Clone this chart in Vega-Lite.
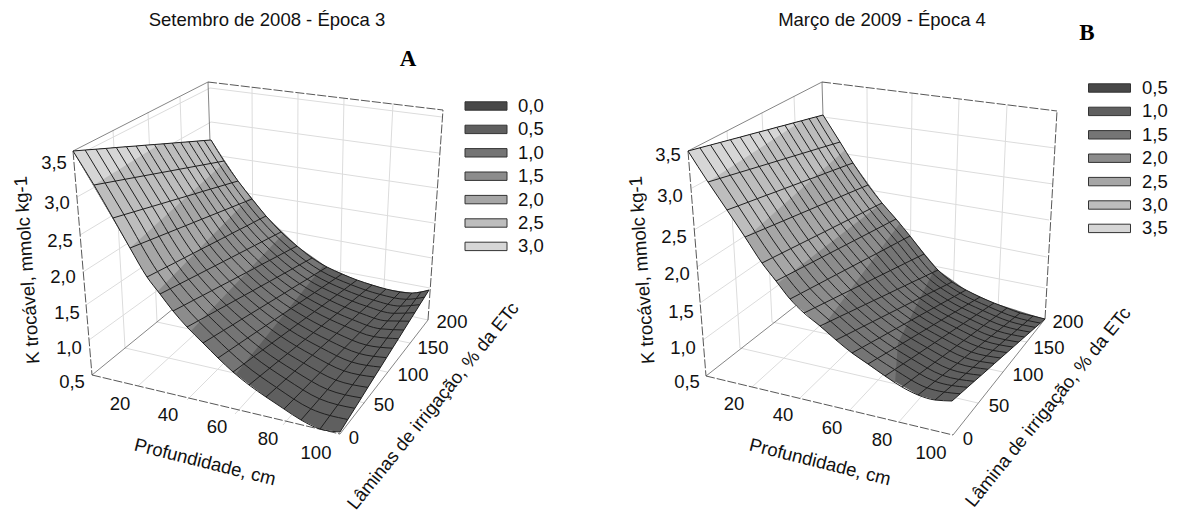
{"$schema":"https://vega.github.io/schema/vega-lite/v6.json","padding":0,"spacing":0,"background":"white","config":{"view":{"stroke":null},"text":{"font":"Liberation Sans","fontSize":18.5,"color":"#111"}},
"datasets":{
"meshA":[
{"c":0,"r":0,"h":73,"v":151},{"c":0,"r":1,"h":94,"v":185},{"c":0,"r":2,"h":113,"v":218},{"c":0,"r":3,"h":130,"v":248},{"c":0,"r":4,"h":147,"v":277},{"c":0,"r":5,"h":160,"v":294},{"c":0,"r":6,"h":173,"v":311},{"c":0,"r":7,"h":187,"v":327},{"c":0,"r":8,"h":203,"v":343},{"c":0,"r":9,"h":218,"v":358},{"c":0,"r":10,"h":233,"v":372},{"c":0,"r":11,"h":249,"v":385},{"c":0,"r":12,"h":266,"v":397},{"c":0,"r":13,"h":284,"v":409},{"c":0,"r":14,"h":301,"v":420},{"c":0,"r":15,"h":320,"v":429},{"c":0,"r":16,"h":340,"v":432},
{"c":15,"r":0,"h":211,"v":140},{"c":15,"r":1,"h":224,"v":161},{"c":15,"r":2,"h":238,"v":181},{"c":15,"r":3,"h":252,"v":199},{"c":15,"r":4,"h":266,"v":216},{"c":15,"r":5,"h":281,"v":232},{"c":15,"r":6,"h":297,"v":246},{"c":15,"r":7,"h":312,"v":258},{"c":15,"r":8,"h":327,"v":267},{"c":15,"r":9,"h":342,"v":274},{"c":15,"r":10,"h":357,"v":280},{"c":15,"r":11,"h":372,"v":285},{"c":15,"r":12,"h":386,"v":289},{"c":15,"r":13,"h":400,"v":292},{"c":15,"r":14,"h":412,"v":293},{"c":15,"r":15,"h":421,"v":292},{"c":15,"r":16,"h":429,"v":290},
{"c":1,"r":0,"h":85.1,"v":150},{"c":2,"r":0,"h":96,"v":149.2},{"c":3,"r":0,"h":106.1,"v":148.4},{"c":4,"r":0,"h":116.3,"v":147.5},{"c":5,"r":0,"h":126.4,"v":146.7},{"c":6,"r":0,"h":136.1,"v":146},{"c":7,"r":0,"h":145.3,"v":145.2},{"c":8,"r":0,"h":154.4,"v":144.5},{"c":9,"r":0,"h":163.7,"v":143.8},{"c":10,"r":0,"h":172.1,"v":143.1},{"c":11,"r":0,"h":180.6,"v":142.4},{"c":12,"r":0,"h":188.9,"v":141.8},{"c":13,"r":0,"h":196.8,"v":141.1},{"c":14,"r":0,"h":204.1,"v":140.5},
{"c":1,"r":2,"h":124,"v":214.7},{"c":2,"r":2,"h":133.9,"v":211.8},{"c":3,"r":2,"h":143,"v":209.1},{"c":4,"r":2,"h":152.3,"v":206.4},{"c":5,"r":2,"h":161.4,"v":203.7},{"c":6,"r":2,"h":170.1,"v":201.1},{"c":7,"r":2,"h":178.5,"v":198.6},{"c":8,"r":2,"h":186.8,"v":196.2},{"c":9,"r":2,"h":195.1,"v":193.7},{"c":10,"r":2,"h":202.8,"v":191.4},{"c":11,"r":2,"h":210.5,"v":189.1},{"c":12,"r":2,"h":218,"v":186.9},{"c":13,"r":2,"h":225.1,"v":184.8},{"c":14,"r":2,"h":231.8,"v":182.8},
{"c":1,"r":4,"h":157.5,"v":271.6},{"c":2,"r":4,"h":166.9,"v":266.8},{"c":3,"r":4,"h":175.6,"v":262.4},{"c":4,"r":4,"h":184.4,"v":257.8},{"c":5,"r":4,"h":193.1,"v":253.4},{"c":6,"r":4,"h":201.4,"v":249.1},{"c":7,"r":4,"h":209.4,"v":245},{"c":8,"r":4,"h":217.2,"v":241},{"c":9,"r":4,"h":225.2,"v":236.9},{"c":10,"r":4,"h":232.4,"v":233.2},{"c":11,"r":4,"h":239.8,"v":229.4},{"c":12,"r":4,"h":247,"v":225.8},{"c":13,"r":4,"h":253.7,"v":222.3},{"c":14,"r":4,"h":260,"v":219},
{"c":1,"r":6,"h":183.9,"v":305.3},{"c":2,"r":6,"h":193.7,"v":300.1},{"c":3,"r":6,"h":202.8,"v":295.4},{"c":4,"r":6,"h":211.9,"v":290.6},{"c":5,"r":6,"h":221,"v":285.8},{"c":6,"r":6,"h":229.7,"v":281.3},{"c":7,"r":6,"h":238,"v":276.9},{"c":8,"r":6,"h":246.2,"v":272.6},{"c":9,"r":6,"h":254.5,"v":268.3},{"c":10,"r":6,"h":262,"v":264.3},{"c":11,"r":6,"h":269.7,"v":260.3},{"c":12,"r":6,"h":277.2,"v":256.4},{"c":13,"r":6,"h":284.2,"v":252.7},{"c":14,"r":6,"h":290.8,"v":249.2},
{"c":1,"r":8,"h":213.9,"v":336.3},{"c":2,"r":8,"h":223.7,"v":330.3},{"c":3,"r":8,"h":232.8,"v":324.8},{"c":4,"r":8,"h":241.9,"v":319.1},{"c":5,"r":8,"h":251,"v":313.6},{"c":6,"r":8,"h":259.7,"v":308.3},{"c":7,"r":8,"h":268,"v":303.2},{"c":8,"r":8,"h":276.2,"v":298.2},{"c":9,"r":8,"h":284.5,"v":293.1},{"c":10,"r":8,"h":292,"v":288.4},{"c":11,"r":8,"h":299.7,"v":283.7},{"c":12,"r":8,"h":307.2,"v":279.2},{"c":13,"r":8,"h":314.2,"v":274.8},{"c":14,"r":8,"h":320.8,"v":270.8},
{"c":1,"r":10,"h":243.9,"v":363.9},{"c":2,"r":10,"h":253.7,"v":356.6},{"c":3,"r":10,"h":262.8,"v":349.9},{"c":4,"r":10,"h":271.9,"v":343.1},{"c":5,"r":10,"h":281,"v":336.4},{"c":6,"r":10,"h":289.7,"v":330},{"c":7,"r":10,"h":298,"v":323.8},{"c":8,"r":10,"h":306.2,"v":317.7},{"c":9,"r":10,"h":314.5,"v":311.6},{"c":10,"r":10,"h":322,"v":305.9},{"c":11,"r":10,"h":329.7,"v":300.2},{"c":12,"r":10,"h":337.2,"v":294.7},{"c":13,"r":10,"h":344.2,"v":289.5},{"c":14,"r":10,"h":350.8,"v":284.6},
{"c":1,"r":12,"h":276.6,"v":387.5},{"c":2,"r":12,"h":286,"v":379},{"c":3,"r":12,"h":294.8,"v":371.1},{"c":4,"r":12,"h":303.7,"v":363.1},{"c":5,"r":12,"h":312.4,"v":355.2},{"c":6,"r":12,"h":320.8,"v":347.6},{"c":7,"r":12,"h":328.9,"v":340.4},{"c":8,"r":12,"h":336.8,"v":333.3},{"c":9,"r":12,"h":344.8,"v":326},{"c":10,"r":12,"h":352.2,"v":319.5},{"c":11,"r":12,"h":359.6,"v":312.8},{"c":12,"r":12,"h":366.8,"v":306.3},{"c":13,"r":12,"h":373.6,"v":300.1},{"c":14,"r":12,"h":380,"v":294.4},
{"c":1,"r":14,"h":310.8,"v":408.8},{"c":2,"r":14,"h":319.5,"v":398.8},{"c":3,"r":14,"h":327.6,"v":389.5},{"c":4,"r":14,"h":335.9,"v":380.1},{"c":5,"r":14,"h":344,"v":370.9},{"c":6,"r":14,"h":351.7,"v":362},{"c":7,"r":14,"h":359.2,"v":353.5},{"c":8,"r":14,"h":366.5,"v":345.1},{"c":9,"r":14,"h":373.9,"v":336.6},{"c":10,"r":14,"h":380.7,"v":328.8},{"c":11,"r":14,"h":387.6,"v":320.9},{"c":12,"r":14,"h":394.2,"v":313.3},{"c":13,"r":14,"h":400.6,"v":306.1},{"c":14,"r":14,"h":406.5,"v":299.3},
{"c":1,"r":16,"h":347.8,"v":419.5},{"c":2,"r":16,"h":354.9,"v":408.3},{"c":3,"r":16,"h":361.4,"v":397.9},{"c":4,"r":16,"h":367.9,"v":387.4},{"c":5,"r":16,"h":374.4,"v":377},{"c":6,"r":16,"h":380.7,"v":367.1},{"c":7,"r":16,"h":386.6,"v":357.6},{"c":8,"r":16,"h":392.5,"v":348.2},{"c":9,"r":16,"h":398.5,"v":338.7},{"c":10,"r":16,"h":403.9,"v":330},{"c":11,"r":16,"h":409.4,"v":321.2},{"c":12,"r":16,"h":414.8,"v":312.7},{"c":13,"r":16,"h":419.8,"v":304.6},{"c":14,"r":16,"h":424.6,"v":297.1}],
"meshB":[
{"c":0,"r":0,"h":688,"v":151},{"c":0,"r":1,"h":708,"v":182},{"c":0,"r":2,"h":727,"v":210},{"c":0,"r":3,"h":745,"v":237},{"c":0,"r":4,"h":762,"v":263},{"c":0,"r":5,"h":776,"v":281},{"c":0,"r":6,"h":790,"v":299},{"c":0,"r":7,"h":804,"v":313},{"c":0,"r":8,"h":820,"v":326},{"c":0,"r":9,"h":836,"v":340},{"c":0,"r":10,"h":852,"v":353},{"c":0,"r":11,"h":868,"v":364},{"c":0,"r":12,"h":885,"v":376},{"c":0,"r":13,"h":902,"v":387},{"c":0,"r":14,"h":918,"v":395},{"c":0,"r":15,"h":935,"v":400},{"c":0,"r":16,"h":952,"v":401},
{"c":15,"r":0,"h":823,"v":115},{"c":15,"r":1,"h":840,"v":142},{"c":15,"r":2,"h":853,"v":163},{"c":15,"r":3,"h":868,"v":185},{"c":15,"r":4,"h":882,"v":203},{"c":15,"r":5,"h":896,"v":219},{"c":15,"r":6,"h":910,"v":236},{"c":15,"r":7,"h":924,"v":254},{"c":15,"r":8,"h":938,"v":270},{"c":15,"r":9,"h":952,"v":282},{"c":15,"r":10,"h":966,"v":290},{"c":15,"r":11,"h":980,"v":297},{"c":15,"r":12,"h":994,"v":303},{"c":15,"r":13,"h":1007,"v":308},{"c":15,"r":14,"h":1020,"v":313},{"c":15,"r":15,"h":1033,"v":316},{"c":15,"r":16,"h":1045,"v":319},
{"c":1,"r":0,"h":699.9,"v":147.8},{"c":2,"r":0,"h":710.5,"v":145},{"c":3,"r":0,"h":720.4,"v":142.4},{"c":4,"r":0,"h":730.4,"v":139.7},{"c":5,"r":0,"h":740.2,"v":137.1},{"c":6,"r":0,"h":749.7,"v":134.5},{"c":7,"r":0,"h":758.7,"v":132.1},{"c":8,"r":0,"h":767.7,"v":129.8},{"c":9,"r":0,"h":776.7,"v":127.3},{"c":10,"r":0,"h":784.9,"v":125.2},{"c":11,"r":0,"h":793.3,"v":122.9},{"c":12,"r":0,"h":801.4,"v":120.8},{"c":13,"r":0,"h":809.1,"v":118.7},{"c":14,"r":0,"h":816.3,"v":116.8},
{"c":1,"r":2,"h":738.1,"v":205.9},{"c":2,"r":2,"h":748,"v":202.2},{"c":3,"r":2,"h":757.2,"v":198.7},{"c":4,"r":2,"h":766.6,"v":195.2},{"c":5,"r":2,"h":775.8,"v":191.8},{"c":6,"r":2,"h":784.6,"v":188.5},{"c":7,"r":2,"h":793,"v":185.4},{"c":8,"r":2,"h":801.3,"v":182.3},{"c":9,"r":2,"h":809.8,"v":179.1},{"c":10,"r":2,"h":817.5,"v":176.3},{"c":11,"r":2,"h":825.3,"v":173.3},{"c":12,"r":2,"h":832.8,"v":170.5},{"c":13,"r":2,"h":840,"v":167.8},{"c":14,"r":2,"h":846.7,"v":165.3},
{"c":1,"r":4,"h":772.6,"v":257.7},{"c":2,"r":4,"h":782,"v":253},{"c":3,"r":4,"h":790.8,"v":248.6},{"c":4,"r":4,"h":799.7,"v":244.2},{"c":5,"r":4,"h":808.4,"v":239.8},{"c":6,"r":4,"h":816.8,"v":235.6},{"c":7,"r":4,"h":824.9,"v":231.6},{"c":8,"r":4,"h":832.8,"v":227.6},{"c":9,"r":4,"h":840.8,"v":223.6},{"c":10,"r":4,"h":848.2,"v":219.9},{"c":11,"r":4,"h":855.6,"v":216.2},{"c":12,"r":4,"h":862.8,"v":212.6},{"c":13,"r":4,"h":869.6,"v":209.2},{"c":14,"r":4,"h":876,"v":206},
{"c":1,"r":6,"h":800.6,"v":293.5},{"c":2,"r":6,"h":810,"v":288.5},{"c":3,"r":6,"h":818.8,"v":283.9},{"c":4,"r":6,"h":827.7,"v":279.2},{"c":5,"r":6,"h":836.4,"v":274.6},{"c":6,"r":6,"h":844.8,"v":270.2},{"c":7,"r":6,"h":852.9,"v":266},{"c":8,"r":6,"h":860.8,"v":261.8},{"c":9,"r":6,"h":868.8,"v":257.6},{"c":10,"r":6,"h":876.2,"v":253.8},{"c":11,"r":6,"h":883.6,"v":249.9},{"c":12,"r":6,"h":890.8,"v":246.1},{"c":13,"r":6,"h":897.6,"v":242.5},{"c":14,"r":6,"h":904,"v":239.1},
{"c":1,"r":8,"h":830.4,"v":321.1},{"c":2,"r":8,"h":839.7,"v":316.6},{"c":3,"r":8,"h":848.3,"v":312.6},{"c":4,"r":8,"h":857.1,"v":308.4},{"c":5,"r":8,"h":865.7,"v":304.3},{"c":6,"r":8,"h":873.9,"v":300.4},{"c":7,"r":8,"h":881.8,"v":296.7},{"c":8,"r":8,"h":889.6,"v":293},{"c":9,"r":8,"h":897.5,"v":289.2},{"c":10,"r":8,"h":904.7,"v":285.8},{"c":11,"r":8,"h":912,"v":282.3},{"c":12,"r":8,"h":919.1,"v":279},{"c":13,"r":8,"h":925.8,"v":275.8},{"c":14,"r":8,"h":932.1,"v":272.8},
{"c":1,"r":10,"h":862,"v":347.5},{"c":2,"r":10,"h":871,"v":342.5},{"c":3,"r":10,"h":879.4,"v":337.9},{"c":4,"r":10,"h":887.8,"v":333.2},{"c":5,"r":10,"h":896.1,"v":328.6},{"c":6,"r":10,"h":904.1,"v":324.2},{"c":7,"r":10,"h":911.7,"v":320},{"c":8,"r":10,"h":919.3,"v":315.8},{"c":9,"r":10,"h":926.9,"v":311.6},{"c":10,"r":10,"h":933.9,"v":307.8},{"c":11,"r":10,"h":940.9,"v":303.9},{"c":12,"r":10,"h":947.8,"v":300.1},{"c":13,"r":10,"h":954.3,"v":296.5},{"c":14,"r":10,"h":960.3,"v":293.1},
{"c":1,"r":12,"h":894.6,"v":369.6},{"c":2,"r":12,"h":903.2,"v":363.8},{"c":3,"r":12,"h":911.2,"v":358.5},{"c":4,"r":12,"h":919.2,"v":353.1},{"c":5,"r":12,"h":927.2,"v":347.7},{"c":6,"r":12,"h":934.8,"v":342.6},{"c":7,"r":12,"h":942.1,"v":337.7},{"c":8,"r":12,"h":949.3,"v":332.9},{"c":9,"r":12,"h":956.6,"v":328},{"c":10,"r":12,"h":963.3,"v":323.6},{"c":11,"r":12,"h":970,"v":319.1},{"c":12,"r":12,"h":976.6,"v":314.7},{"c":13,"r":12,"h":982.8,"v":310.5},{"c":14,"r":12,"h":988.6,"v":306.6},
{"c":1,"r":14,"h":927,"v":387.8},{"c":2,"r":14,"h":935,"v":381.3},{"c":3,"r":14,"h":942.5,"v":375.3},{"c":4,"r":14,"h":950,"v":369.3},{"c":5,"r":14,"h":957.5,"v":363.3},{"c":6,"r":14,"h":964.6,"v":357.5},{"c":7,"r":14,"h":971.4,"v":352},{"c":8,"r":14,"h":978.2,"v":346.6},{"c":9,"r":14,"h":985,"v":341.1},{"c":10,"r":14,"h":991.2,"v":336.1},{"c":11,"r":14,"h":997.6,"v":331},{"c":12,"r":14,"h":1003.7,"v":326.1},{"c":13,"r":14,"h":1009.5,"v":321.4},{"c":14,"r":14,"h":1014.9,"v":317.1},
{"c":1,"r":16,"h":960.2,"v":393.8},{"c":2,"r":16,"h":967.5,"v":387.3},{"c":3,"r":16,"h":974.3,"v":381.3},{"c":4,"r":16,"h":981.2,"v":375.3},{"c":5,"r":16,"h":988,"v":369.3},{"c":6,"r":16,"h":994.5,"v":363.5},{"c":7,"r":16,"h":1000.7,"v":358},{"c":8,"r":16,"h":1006.9,"v":352.6},{"c":9,"r":16,"h":1013.1,"v":347.1},{"c":10,"r":16,"h":1018.8,"v":342.1},{"c":11,"r":16,"h":1024.5,"v":337},{"c":12,"r":16,"h":1030.1,"v":332.1},{"c":13,"r":16,"h":1035.4,"v":327.4},{"c":14,"r":16,"h":1040.4,"v":323.1}],
"bandA":[
{"b":"0,5","o":0,"h":73,"v":151},{"b":"0,5","o":1,"h":130,"v":248},{"b":"0,5","o":2,"h":147,"v":277},{"b":"0,5","o":3,"h":173,"v":311},{"b":"0,5","o":4,"h":203,"v":343},{"b":"0,5","o":5,"h":233,"v":372},{"b":"0,5","o":6,"h":266,"v":397},{"b":"0,5","o":7,"h":301,"v":420},{"b":"0,5","o":8,"h":320,"v":429},{"b":"0,5","o":9,"h":340,"v":432},{"b":"0,5","o":10,"h":429,"v":290},{"b":"0,5","o":11,"h":412,"v":293},{"b":"0,5","o":12,"h":386,"v":289},{"b":"0,5","o":13,"h":357,"v":280},{"b":"0,5","o":14,"h":327,"v":267},{"b":"0,5","o":15,"h":297,"v":246},{"b":"0,5","o":16,"h":266,"v":216},{"b":"0,5","o":17,"h":238,"v":181},{"b":"0,5","o":18,"h":211,"v":140},
{"b":"1,0","o":0,"h":73,"v":151},{"b":"1,0","o":1,"h":130,"v":248},{"b":"1,0","o":2,"h":147,"v":277},{"b":"1,0","o":3,"h":173,"v":311},{"b":"1,0","o":4,"h":203,"v":343},{"b":"1,0","o":5,"h":236,"v":374},{"b":"1,0","o":6,"h":323,"v":266},{"b":"1,0","o":7,"h":297,"v":246},{"b":"1,0","o":8,"h":266,"v":216},{"b":"1,0","o":9,"h":238,"v":181},{"b":"1,0","o":10,"h":211,"v":140},
{"b":"1,5","o":0,"h":73,"v":151},{"b":"1,5","o":1,"h":130,"v":248},{"b":"1,5","o":2,"h":147,"v":277},{"b":"1,5","o":3,"h":173,"v":311},{"b":"1,5","o":4,"h":191,"v":331},{"b":"1,5","o":5,"h":283,"v":234},{"b":"1,5","o":6,"h":266,"v":216},{"b":"1,5","o":7,"h":238,"v":181},{"b":"1,5","o":8,"h":211,"v":140},
{"b":"2,0","o":0,"h":73,"v":151},{"b":"2,0","o":1,"h":130,"v":248},{"b":"2,0","o":2,"h":147,"v":277},{"b":"2,0","o":3,"h":158,"v":291},{"b":"2,0","o":4,"h":250,"v":197},{"b":"2,0","o":5,"h":238,"v":181},{"b":"2,0","o":6,"h":211,"v":140},
{"b":"2,5","o":0,"h":73,"v":151},{"b":"2,5","o":1,"h":113,"v":218},{"b":"2,5","o":2,"h":130,"v":248},{"b":"2,5","o":3,"h":225,"v":162},{"b":"2,5","o":4,"h":211,"v":140},
{"b":"3,0","o":0,"h":73,"v":151},{"b":"3,0","o":1,"h":94,"v":185},{"b":"3,0","o":2,"h":160,"v":144}],
"bandB":[
{"b":"1,0","o":0,"h":688,"v":151},{"b":"1,0","o":1,"h":745,"v":237},{"b":"1,0","o":2,"h":762,"v":263},{"b":"1,0","o":3,"h":790,"v":299},{"b":"1,0","o":4,"h":820,"v":326},{"b":"1,0","o":5,"h":852,"v":353},{"b":"1,0","o":6,"h":885,"v":376},{"b":"1,0","o":7,"h":918,"v":395},{"b":"1,0","o":8,"h":935,"v":400},{"b":"1,0","o":9,"h":952,"v":401},{"b":"1,0","o":10,"h":1045,"v":319},{"b":"1,0","o":11,"h":994,"v":303},{"b":"1,0","o":12,"h":966,"v":290},{"b":"1,0","o":13,"h":938,"v":270},{"b":"1,0","o":14,"h":910,"v":236},{"b":"1,0","o":15,"h":882,"v":203},{"b":"1,0","o":16,"h":853,"v":163},{"b":"1,0","o":17,"h":823,"v":115},
{"b":"1,5","o":0,"h":688,"v":151},{"b":"1,5","o":1,"h":745,"v":237},{"b":"1,5","o":2,"h":762,"v":263},{"b":"1,5","o":3,"h":790,"v":299},{"b":"1,5","o":4,"h":820,"v":326},{"b":"1,5","o":5,"h":852,"v":353},{"b":"1,5","o":6,"h":885,"v":376},{"b":"1,5","o":7,"h":895,"v":383},{"b":"1,5","o":8,"h":898,"v":343},{"b":"1,5","o":9,"h":935,"v":268},{"b":"1,5","o":10,"h":910,"v":236},{"b":"1,5","o":11,"h":882,"v":203},{"b":"1,5","o":12,"h":853,"v":163},{"b":"1,5","o":13,"h":823,"v":115},
{"b":"2,0","o":0,"h":688,"v":151},{"b":"2,0","o":1,"h":745,"v":237},{"b":"2,0","o":2,"h":762,"v":263},{"b":"2,0","o":3,"h":790,"v":299},{"b":"2,0","o":4,"h":822,"v":328},{"b":"2,0","o":5,"h":900,"v":223},{"b":"2,0","o":6,"h":882,"v":203},{"b":"2,0","o":7,"h":853,"v":163},{"b":"2,0","o":8,"h":823,"v":115},
{"b":"2,5","o":0,"h":688,"v":151},{"b":"2,5","o":1,"h":745,"v":237},{"b":"2,5","o":2,"h":762,"v":263},{"b":"2,5","o":3,"h":778,"v":283},{"b":"2,5","o":4,"h":882,"v":203},{"b":"2,5","o":5,"h":853,"v":163},{"b":"2,5","o":6,"h":823,"v":115},
{"b":"3,0","o":0,"h":688,"v":151},{"b":"3,0","o":1,"h":727,"v":210},{"b":"3,0","o":2,"h":746,"v":238},{"b":"3,0","o":3,"h":845,"v":150},{"b":"3,0","o":4,"h":823,"v":115},
{"b":"3,5","o":0,"h":688,"v":151},{"b":"3,5","o":1,"h":708,"v":182},{"b":"3,5","o":2,"h":800,"v":122}],
"gridA":[
{"l":"a1","h":74,"v":157},{"l":"a1","h":210,"v":88},{"l":"a1b","h":210,"v":88},{"l":"a1b","h":442,"v":117},
{"l":"a2","h":77,"v":197},{"l":"a2","h":211,"v":122},{"l":"a2b","h":211,"v":122},{"l":"a2b","h":439,"v":153},
{"l":"a3","h":80,"v":235},{"l":"a3","h":213,"v":155},{"l":"a3b","h":213,"v":155},{"l":"a3b","h":437,"v":188},
{"l":"a4","h":83,"v":272},{"l":"a4","h":214,"v":188},{"l":"a4b","h":214,"v":188},{"l":"a4b","h":434,"v":223},
{"l":"a5","h":86,"v":305},{"l":"a5","h":215,"v":218},{"l":"a5b","h":215,"v":218},{"l":"a5b","h":432,"v":258},
{"l":"a6","h":89,"v":340},{"l":"a6","h":216,"v":248},{"l":"a6b","h":216,"v":248},{"l":"a6b","h":430,"v":288},
{"l":"b0","h":217,"v":273},{"l":"b0","h":428,"v":320},
{"l":"v1","h":252,"v":87},{"l":"v1","h":253,"v":281},{"l":"v2","h":298,"v":93},{"l":"v2","h":297,"v":290},{"l":"v3","h":344,"v":98},{"l":"v3","h":340,"v":298},{"l":"v4","h":393,"v":103},{"l":"v4","h":383,"v":308},
{"l":"w1","h":113,"v":130},{"l":"w1","h":125,"v":348},{"l":"w2","h":148,"v":112},{"l":"w2","h":157,"v":322},{"l":"w3","h":180,"v":97},{"l":"w3","h":187,"v":297},
{"l":"x1","h":125,"v":348},{"l":"x1","h":365,"v":403},{"l":"x2","h":157,"v":322},{"l":"x2","h":387,"v":372},{"l":"x3","h":187,"v":297},{"l":"x3","h":410,"v":343},
{"l":"y1","h":138,"v":386},{"l":"y1","h":253,"v":281},{"l":"y2","h":187,"v":400},{"l":"y2","h":297,"v":290},{"l":"y3","h":235,"v":414},{"l":"y3","h":340,"v":298},{"l":"y4","h":283,"v":425},{"l":"y4","h":383,"v":308}],
"gridB":[
{"l":"a2","h":692,"v":188},{"l":"a2","h":823,"v":117},{"l":"a2b","h":823,"v":117},{"l":"a2b","h":1055,"v":148},
{"l":"a3","h":694,"v":230},{"l":"a3","h":825,"v":151},{"l":"a3b","h":825,"v":151},{"l":"a3b","h":1053,"v":184},
{"l":"a4","h":697,"v":267},{"l":"a4","h":827,"v":183},{"l":"a4b","h":827,"v":183},{"l":"a4b","h":1049,"v":220},
{"l":"a5","h":700,"v":303},{"l":"a5","h":829,"v":214},{"l":"a5b","h":829,"v":214},{"l":"a5b","h":1047,"v":257},
{"l":"a6","h":703,"v":340},{"l":"a6","h":832,"v":246},{"l":"a6b","h":832,"v":246},{"l":"a6b","h":1045,"v":288},
{"l":"b0","h":835,"v":275},{"l":"b0","h":1045,"v":319},
{"l":"v1","h":867,"v":87.5},{"l":"v1","h":868,"v":282},{"l":"v2","h":912,"v":93},{"l":"v2","h":910,"v":291},{"l":"v3","h":959,"v":99},{"l":"v3","h":953,"v":300},{"l":"v4","h":1007,"v":105},{"l":"v4","h":998,"v":309},
{"l":"w1","h":727,"v":131},{"l":"w1","h":740,"v":348},{"l":"w2","h":762,"v":113},{"l":"w2","h":772,"v":322},{"l":"w3","h":794,"v":96},{"l":"w3","h":802,"v":301},
{"l":"x1","h":740,"v":348},{"l":"x1","h":978,"v":403},{"l":"x2","h":772,"v":322},{"l":"x2","h":1003,"v":372},{"l":"x3","h":802,"v":301},{"l":"x3","h":1027,"v":342},
{"l":"y1","h":752,"v":387},{"l":"y1","h":868,"v":282},{"l":"y2","h":800,"v":398},{"l":"y2","h":910,"v":291},{"l":"y3","h":850,"v":410},{"l":"y3","h":953,"v":300},{"l":"y4","h":898,"v":423},{"l":"y4","h":998,"v":309}],
"dashA":[{"l":"e1","h":73,"v":151},{"l":"e1","h":92,"v":375},{"l":"e2","h":92,"v":375},{"l":"e2","h":340,"v":434},{"l":"e3","h":208,"v":82},{"l":"e3","h":443,"v":110},{"l":"e4","h":443,"v":110},{"l":"e4","h":428,"v":320}],
"dashB":[{"l":"e1","h":688,"v":151},{"l":"e1","h":706,"v":376},{"l":"e2","h":706,"v":376},{"l":"e2","h":953,"v":435},{"l":"e3","h":822,"v":82},{"l":"e3","h":1057,"v":111},{"l":"e4","h":1057,"v":111},{"l":"e4","h":1045,"v":319}],
"thinA":[{"l":"e5","h":73,"v":151},{"l":"e5","h":208,"v":82},{"l":"e6","h":92,"v":375},{"l":"e6","h":217,"v":273},{"l":"e7","h":340,"v":434},{"l":"e7","h":428,"v":320},{"l":"e8","h":208,"v":82},{"l":"e8","h":210,"v":142}],
"thinB":[{"l":"e5","h":688,"v":151},{"l":"e5","h":822,"v":82},{"l":"e6","h":706,"v":376},{"l":"e6","h":835,"v":275},{"l":"e7","h":953,"v":435},{"l":"e7","h":1045,"v":319},{"l":"e8","h":822,"v":82},{"l":"e8","h":823,"v":116}],
"ticksA":[{"t":"3,5","h":54,"v":163},{"t":"3,0","h":57,"v":203},{"t":"2,5","h":60,"v":241},{"t":"2,0","h":63,"v":277},{"t":"1,5","h":67,"v":313},{"t":"1,0","h":69,"v":348},{"t":"0,5","h":72,"v":382},{"t":"20","h":120,"v":404},{"t":"40","h":168,"v":415},{"t":"60","h":217,"v":427},{"t":"80","h":268,"v":439},{"t":"100","h":316,"v":453},{"t":"0","h":354,"v":438},{"t":"50","h":384,"v":405},{"t":"100","h":413,"v":375},{"t":"150","h":433,"v":348},{"t":"200","h":452,"v":322},{"t":"Setembro de 2008 - Época 3","h":267,"v":20}],
"ticksB":[{"t":"3,5","h":668,"v":155},{"t":"3,0","h":670,"v":196},{"t":"2,5","h":674,"v":237},{"t":"2,0","h":677,"v":274},{"t":"1,5","h":681,"v":312},{"t":"1,0","h":683,"v":348},{"t":"0,5","h":687,"v":382},{"t":"20","h":734,"v":404},{"t":"40","h":783,"v":415},{"t":"60","h":832,"v":428},{"t":"80","h":882,"v":440},{"t":"100","h":931,"v":453},{"t":"0","h":968,"v":439},{"t":"50","h":999,"v":406},{"t":"100","h":1028,"v":375},{"t":"150","h":1049,"v":348},{"t":"200","h":1068,"v":322},{"t":"Março de 2009 - Época 4","h":882,"v":20}]
},
"hconcat":[
{"width":589,"height":519,"layer":[
{"data":{"name":"gridA"},"mark":{"type":"line","stroke":"#dcdcdc","strokeWidth":1},"encoding":{"x":{"field":"h","type":"quantitative","scale":{"domain":[0,589],"nice":false,"zero":false},"axis":null},"y":{"field":"v","type":"quantitative","scale":{"domain":[519,0],"nice":false,"zero":false},"axis":null},"detail":{"field":"l"}}},
{"data":{"name":"thinA"},"mark":{"type":"line","stroke":"#666","strokeWidth":0.8},"encoding":{"x":{"field":"h","type":"quantitative","axis":null},"y":{"field":"v","type":"quantitative","axis":null},"detail":{"field":"l"}}},
{"data":{"name":"dashA"},"mark":{"type":"line","stroke":"#444","strokeWidth":0.9,"strokeDash":[9,2]},"encoding":{"x":{"field":"h","type":"quantitative","axis":null},"y":{"field":"v","type":"quantitative","axis":null},"detail":{"field":"l"}}},
{"data":{"name":"bandA"},"mark":{"type":"line","strokeWidth":0},"encoding":{"x":{"field":"h","type":"quantitative","axis":null},"y":{"field":"v","type":"quantitative","axis":null},"order":{"field":"o"},"fill":{"field":"b","type":"nominal","title":null,"sort":null,"scale":{"domain":["0,0","0,5","1,0","1,5","2,0","2,5","3,0"],"range":["#484848","#5f5f5f","#757575","#8c8c8c","#a6a6a6","#bdbdbd","#d6d6d6"]},"legend":{"orient":"none","legendX":475,"legendY":95,"symbolType":"M-2,-0.4H2V0.4H-2Z","symbolSize":441,"symbolStrokeColor":"#333","symbolStrokeWidth":1,"labelFont":"Liberation Sans","labelFontSize":18.5,"labelColor":"#111","rowPadding":2.4,"labelOffset":21}}}},
{"data":{"name":"meshA"},"mark":{"type":"line","stroke":"#1f1f1f","strokeWidth":1,"interpolate":"monotone"},"encoding":{"x":{"field":"h","type":"quantitative","axis":null},"y":{"field":"v","type":"quantitative","axis":null},"detail":{"field":"c"}}},
{"data":{"name":"meshA"},"mark":{"type":"line","stroke":"#1f1f1f","strokeWidth":1},"encoding":{"x":{"field":"h","type":"quantitative","axis":null},"y":{"field":"v","type":"quantitative","axis":null},"detail":{"field":"r"}}},
{"data":{"name":"ticksA"},"mark":{"type":"text","align":"center","baseline":"middle"},"encoding":{"x":{"field":"h","type":"quantitative","axis":null},"y":{"field":"v","type":"quantitative","axis":null},"text":{"field":"t"}}},
{"data":{"values":[{"t":"Profundidade, cm","h":205,"v":462}]},"mark":{"type":"text","align":"center","baseline":"middle","angle":14},"encoding":{"x":{"field":"h","type":"quantitative","axis":null},"y":{"field":"v","type":"quantitative","axis":null},"text":{"field":"t"}}},
{"data":{"values":[{"t":"Lâminas de irrigação, % da ETc","h":433,"v":406}]},"mark":{"type":"text","align":"center","baseline":"middle","angle":309},"encoding":{"x":{"field":"h","type":"quantitative","axis":null},"y":{"field":"v","type":"quantitative","axis":null},"text":{"field":"t"}}},
{"data":{"values":[{"t":"K trocável, mmolc kg-1","h":27,"v":270}]},"mark":{"type":"text","align":"center","baseline":"middle","angle":266},"encoding":{"x":{"field":"h","type":"quantitative","axis":null},"y":{"field":"v","type":"quantitative","axis":null},"text":{"field":"t"}}},
{"data":{"values":[{"t":"A","h":408,"v":59}]},"mark":{"type":"text","align":"center","baseline":"middle","font":"Liberation Serif","fontWeight":"bold","fontSize":23,"color":"#000"},"encoding":{"x":{"field":"h","type":"quantitative","axis":null},"y":{"field":"v","type":"quantitative","axis":null},"text":{"field":"t"}}}
]},
{"width":589,"height":519,"layer":[
{"data":{"name":"gridB"},"mark":{"type":"line","stroke":"#dcdcdc","strokeWidth":1},"encoding":{"x":{"field":"h","type":"quantitative","scale":{"domain":[589,1178],"nice":false,"zero":false},"axis":null},"y":{"field":"v","type":"quantitative","scale":{"domain":[519,0],"nice":false,"zero":false},"axis":null},"detail":{"field":"l"}}},
{"data":{"name":"thinB"},"mark":{"type":"line","stroke":"#666","strokeWidth":0.8},"encoding":{"x":{"field":"h","type":"quantitative","axis":null},"y":{"field":"v","type":"quantitative","axis":null},"detail":{"field":"l"}}},
{"data":{"name":"dashB"},"mark":{"type":"line","stroke":"#444","strokeWidth":0.9,"strokeDash":[9,2]},"encoding":{"x":{"field":"h","type":"quantitative","axis":null},"y":{"field":"v","type":"quantitative","axis":null},"detail":{"field":"l"}}},
{"data":{"name":"bandB"},"mark":{"type":"line","strokeWidth":0},"encoding":{"x":{"field":"h","type":"quantitative","axis":null},"y":{"field":"v","type":"quantitative","axis":null},"order":{"field":"o"},"fill":{"field":"b","type":"nominal","title":null,"sort":null,"scale":{"domain":["0,5","1,0","1,5","2,0","2,5","3,0","3,5"],"range":["#484848","#5f5f5f","#757575","#8c8c8c","#a6a6a6","#bdbdbd","#d6d6d6"]},"legend":{"orient":"none","legendX":509.5,"legendY":77,"symbolType":"M-2,-0.4H2V0.4H-2Z","symbolSize":441,"symbolStrokeColor":"#333","symbolStrokeWidth":1,"labelFont":"Liberation Sans","labelFontSize":18.5,"labelColor":"#111","rowPadding":2.4,"labelOffset":21.5}}}},
{"data":{"name":"meshB"},"mark":{"type":"line","stroke":"#1f1f1f","strokeWidth":1,"interpolate":"monotone"},"encoding":{"x":{"field":"h","type":"quantitative","axis":null},"y":{"field":"v","type":"quantitative","axis":null},"detail":{"field":"c"}}},
{"data":{"name":"meshB"},"mark":{"type":"line","stroke":"#1f1f1f","strokeWidth":1},"encoding":{"x":{"field":"h","type":"quantitative","axis":null},"y":{"field":"v","type":"quantitative","axis":null},"detail":{"field":"r"}}},
{"data":{"name":"ticksB"},"mark":{"type":"text","align":"center","baseline":"middle"},"encoding":{"x":{"field":"h","type":"quantitative","axis":null},"y":{"field":"v","type":"quantitative","axis":null},"text":{"field":"t"}}},
{"data":{"values":[{"t":"Profundidade, cm","h":820,"v":462}]},"mark":{"type":"text","align":"center","baseline":"middle","angle":14},"encoding":{"x":{"field":"h","type":"quantitative","axis":null},"y":{"field":"v","type":"quantitative","axis":null},"text":{"field":"t"}}},
{"data":{"values":[{"t":"Lâmina de irrigação, % da ETc","h":1048,"v":407}]},"mark":{"type":"text","align":"center","baseline":"middle","angle":309},"encoding":{"x":{"field":"h","type":"quantitative","axis":null},"y":{"field":"v","type":"quantitative","axis":null},"text":{"field":"t"}}},
{"data":{"values":[{"t":"K trocável, mmolc kg-1","h":642,"v":270}]},"mark":{"type":"text","align":"center","baseline":"middle","angle":266},"encoding":{"x":{"field":"h","type":"quantitative","axis":null},"y":{"field":"v","type":"quantitative","axis":null},"text":{"field":"t"}}},
{"data":{"values":[{"t":"B","h":1087,"v":33}]},"mark":{"type":"text","align":"center","baseline":"middle","font":"Liberation Serif","fontWeight":"bold","fontSize":23,"color":"#000"},"encoding":{"x":{"field":"h","type":"quantitative","axis":null},"y":{"field":"v","type":"quantitative","axis":null},"text":{"field":"t"}}}
]}
],"resolve":{"scale":{"fill":"independent"}}}
